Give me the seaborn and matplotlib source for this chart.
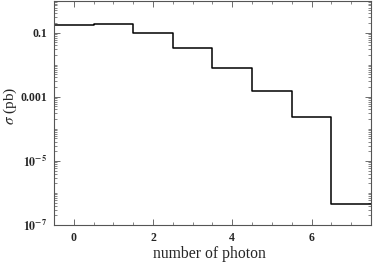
import numpy as np
import pandas as pd
import matplotlib
matplotlib.use("Agg")
import matplotlib.pyplot as plt
import matplotlib.ticker as mticker
import seaborn as sns

# photon multiplicity and cross section (pb)
n_photon = [0, 1, 2, 3, 4, 5, 6, 7]
sigma = [0.174, 0.186, 0.095, 0.032, 0.0079, 0.0015, 2.3e-4, 4.4e-7]
y_ticks = [0.1, 0.001, 1e-5, 1e-7]
y_labels = ["0.1", "0.001", r"$\mathbf{10^{-5}}$", r"$\mathbf{10^{-7}}$"]

df = pd.DataFrame({"n": n_photon, "sigma": sigma})
edges = [v - 0.5 for v in n_photon] + [n_photon[-1] + 0.5]

sns.set_style("ticks")
plt.rcParams["font.family"] = ["Liberation Serif", "DejaVu Serif"]
plt.rcParams["mathtext.fontset"] = "stix"

fig = plt.figure(figsize=(3.74, 2.65), dpi=100)
ax = fig.add_axes([0.144, 0.151, 0.848, 0.847])

# step outline
sns.histplot(data=df, x="n", weights="sigma", bins=edges,
             element="step", fill=False, color="black", linewidth=1.1, ax=ax)

ax.set_yscale("log")
ax.set_xlim(-0.5, 7.5)
ax.set_ylim(1e-7, 1)

ax.set_xticks([0, 2, 4, 6])
ax.xaxis.set_minor_locator(mticker.MultipleLocator(0.5))
ax.set_yticks(y_ticks)
ax.set_yticklabels(y_labels)
ax.yaxis.set_minor_locator(mticker.LogLocator(base=10, subs=np.arange(1, 10), numticks=20))
ax.yaxis.set_minor_formatter(mticker.NullFormatter())

for lab in ax.get_xticklabels() + ax.get_yticklabels():
    lab.set_fontweight("bold")
    lab.set_fontsize(8.5)

ax.tick_params(which="both", direction="in", top=True, right=True, color="#555555", pad=5)
ax.tick_params(which="major", length=4, width=0.6)
ax.tick_params(which="minor", length=2, width=0.5)
for s in ax.spines.values():
    s.set_color("#555555")
    s.set_linewidth(0.8)

ax.set_xlabel("number of photon", fontsize=11.3)
ax.set_ylabel(r"$\sigma$ (pb)", fontsize=11)
ax.xaxis.set_label_coords(0.49, -0.095)
ax.yaxis.set_label_coords(-0.11, 0.53)

fig.savefig("out.png", dpi=100)
